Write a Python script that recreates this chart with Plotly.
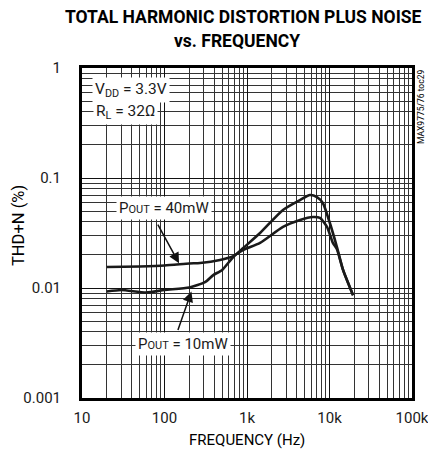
import plotly.graph_objects as go
import numpy as np

# ---- data ----
freq_10mw = [20, 30, 60, 100, 200, 310, 390, 500, 680, 900, 1440, 2730, 4390, 5800, 7050, 8330, 10100, 12300, 14600, 19300]
thdn_10mw = [0.0093, 0.0096, 0.0091, 0.0096, 0.0101, 0.0113, 0.0131, 0.0146, 0.0191, 0.0231, 0.0316, 0.0512, 0.063, 0.070, 0.067, 0.059, 0.039, 0.0236, 0.0146, 0.0086]

freq_40mw = [20, 50, 100, 200, 270, 470, 680, 900, 1440, 2730, 4390, 6300, 7670, 9330, 11000, 12300, 14600, 19300]
thdn_40mw = [0.0155, 0.0157, 0.016, 0.0167, 0.0169, 0.018, 0.0195, 0.0222, 0.0257, 0.0359, 0.0415, 0.0442, 0.0433, 0.0359, 0.0257, 0.0225, 0.0146, 0.0086]

x_ticks = [10, 100, 1000, 10000, 100000]
x_tick_text = ["10", "100", "1k", "10k", "100k"]
y_ticks = [0.001, 0.01, 0.1, 1]
y_tick_text = ["0.001", "0.01", "0.1", "1"]

FONT = "Roboto, Liberation Sans, sans-serif"
W, H = 428, 460
ML, MR, MT, MB = 82, 16, 68, 62

minor_x = [m * 10 ** k for k in range(1, 5) for m in range(2, 10)]
minor_y = [m * 10.0 ** k for k in range(-3, 0) for m in range(2, 10)]

fig = go.Figure()
for f, v in [(freq_10mw, thdn_10mw), (freq_40mw, thdn_40mw)]:
    fig.add_trace(go.Scatter(x=f, y=v, mode="lines",
                             line=dict(color="#1a1a1a", width=2.6, shape="spline", smoothing=0.6),
                             showlegend=False, hoverinfo="skip"))

fig.update_layout(
    width=W, height=H,
    margin=dict(l=ML, r=MR, t=MT, b=MB, autoexpand=False),
    paper_bgcolor="white", plot_bgcolor="white",
    font=dict(family=FONT, size=15, color="#1a1a1a"),
)
fig.update_xaxes(type="log", range=[1, 5], tickvals=x_ticks, ticktext=x_tick_text, automargin=False,
                 showgrid=True, gridcolor="#111", gridwidth=1.4, ticklabeloverflow="allow",
                 minor=dict(tickvals=minor_x, showgrid=True, gridcolor="#333", gridwidth=1, ticks=""),
                 showline=True, linecolor="black", linewidth=3, mirror=True, ticks="", ticklabelstandoff=4,
                 tickfont=dict(size=15))
fig.update_yaxes(type="log", range=[-3, 0], tickvals=y_ticks, ticktext=y_tick_text, automargin=False,
                 showgrid=True, gridcolor="#111", gridwidth=1.4, ticklabeloverflow="allow",
                 minor=dict(tickvals=minor_y, showgrid=True, gridcolor="#333", gridwidth=1, ticks=""),
                 showline=True, linecolor="black", linewidth=3, mirror=True, ticks="", ticklabelstandoff=15,
                 tickfont=dict(size=15))

# title lines and axis titles
def px_annot(text, x, y, size, **kw):
    fig.add_annotation(xref="paper", yref="paper",
                       x=(x - ML) / (W - ML - MR), y=1 - (y - MT) / (H - MT - MB),
                       text=text, showarrow=False, font=dict(family=FONT, size=size, color="#000"), **kw)

px_annot("<b>TOTAL HARMONIC DISTORTION PLUS NOISE</b>", 243, 17, 17.5, xanchor="center", yanchor="middle")
px_annot("<b>vs. FREQUENCY</b>", 237, 41, 17.5, xanchor="center", yanchor="middle")
px_annot("FREQUENCY (Hz)", 247, 440, 15, xanchor="center", yanchor="middle")
px_annot("THD+N (%)", 18, 226, 16.5, xanchor="center", yanchor="middle", textangle=-90)
px_annot("MAX9775/76 toc29", 421, 68, 8.5, xanchor="center", yanchor="top", textangle=-90)

small = "<span style='font-size:11px'>"
ann = [
    dict(text="V<sub>DD</sub> = 3.3V", x=13.3, y=0.63, size=15.5),
    dict(text="R<sub>L</sub> = 32Ω", x=13.6, y=0.40, size=15.5),
    dict(text="P" + small + "OUT</span> = 40mW", x=25.5, y=0.053, size=15),
    dict(text="P" + small + "OUT</span> = 10mW", x=44.5, y=0.0031, size=15),
]
for a in ann:
    fig.add_annotation(xref="x", yref="y", x=np.log10(a["x"]), y=np.log10(a["y"]), text=a["text"],
                       showarrow=False, xanchor="left", yanchor="middle", bgcolor="white", borderpad=2,
                       font=dict(size=a["size"], family=FONT))

# arrows
fig.add_annotation(xref="x", yref="y", x=np.log10(150), y=np.log10(0.0168), ax=-22, ay=-40,
                   text="", showarrow=True, arrowhead=2, arrowsize=1.4, arrowwidth=1.5, arrowcolor="#111")
fig.add_annotation(xref="x", yref="y", x=np.log10(212), y=np.log10(0.0093), ax=-14, ay=40,
                   text="", showarrow=True, arrowhead=2, arrowsize=1.4, arrowwidth=1.5, arrowcolor="#111")

fig.write_html("out.html")
